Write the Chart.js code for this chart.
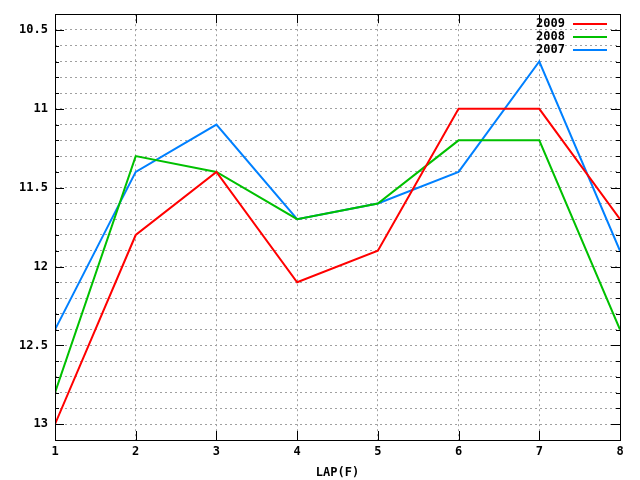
<!DOCTYPE html>
<html><head><meta charset="utf-8">
<script src="https://cdn.jsdelivr.net/npm/chart.js@4"></script>
<style>html,body{margin:0;padding:0;background:#fff}#wrap{width:640px;height:480px}</style>
</head><body><div id="wrap"><canvas id="c" width="640" height="480"></canvas></div>
<script>
const laps = [1,2,3,4,5,6,7,8];
const seriesNames = ['2009','2008','2007'];
const s2009 = [13.0, 11.8, 11.4, 12.1, 11.9, 11.0, 11.0, 11.7];
const s2008 = [12.8, 11.3, 11.4, 11.7, 11.6, 11.2, 11.2, 12.4];
const s2007 = [12.4, 11.4, 11.1, 11.7, 11.6, 11.4, 10.7, 11.9];
const colors = ['#ff0000','#00c000','#0080ff'];
const xTitle = 'LAP(F)';
const yMin = 10.4, yMax = 13.1;

const FONT = 'DejaVu Sans Mono';
const mk = (arr) => laps.map((x,i)=>({x:x,y:arr[i]}));
const data = {datasets:[s2009,s2008,s2007].map((a,i)=>({label:seriesNames[i],data:mk(a),borderColor:colors[i],backgroundColor:colors[i],borderWidth:2,pointRadius:0,tension:0,fill:false}))};

const frame = {
  id:'frame',
  afterDraw(chart){
    const ctx = chart.ctx, a = chart.chartArea;
    const ys = chart.scales.y, xs = chart.scales.x;
    ctx.save();
    ctx.strokeStyle = '#000'; ctx.lineWidth = 1; ctx.setLineDash([]);
    ctx.strokeRect(Math.round(a.left)+0.5, Math.round(a.top)+0.5, Math.round(a.right-a.left), Math.round(a.bottom-a.top));
    ctx.beginPath();
    for (let k=104;k<=131;k++){
      const v=k/10; const y=Math.round(ys.getPixelForValue(v))+0.5;
      const major = (k%5===0); const L = major?9:4;
      ctx.moveTo(a.left,y); ctx.lineTo(a.left+L,y);
      ctx.moveTo(a.right,y); ctx.lineTo(a.right-L,y);
    }
    laps.forEach(v=>{
      const x=Math.round(xs.getPixelForValue(v))+0.5;
      ctx.moveTo(x,a.top); ctx.lineTo(x,a.top+9);
      ctx.moveTo(x,a.bottom); ctx.lineTo(x,a.bottom-9);
    });
    ctx.stroke();
    // legend
    ctx.font = 'bold 12px "'+FONT+'"';
    ctx.textAlign='right'; ctx.textBaseline='middle'; ctx.fillStyle='#000';
    chart.data.datasets.forEach((ds,i)=>{
      const y = 24 + i*13;
      ctx.fillText(ds.label, 565, y);
      ctx.strokeStyle = ds.borderColor; ctx.lineWidth=2;
      ctx.beginPath(); ctx.moveTo(573,y); ctx.lineTo(607,y); ctx.stroke();
    });
    ctx.restore();
  }
};

new Chart(document.getElementById('c'), {
  type:'line',
  data:data,
  plugins:[frame],
  options:{
    responsive:false, animation:false, devicePixelRatio:1,
    layout:{padding:{top:13,right:20,left:0,bottom:0}},
    plugins:{legend:{display:false},tooltip:{enabled:false}},
    scales:{
      x:{type:'linear',min:1,max:8,
        afterFit(s){s.height=40;},
        ticks:{stepSize:1,padding:5,color:'#000',font:{family:FONT,weight:'bold',size:12}},
        grid:{color:'#a0a0a0',drawTicks:false,tickLength:0},
        border:{display:false,dash:[2,3]},
        title:{display:true,text:xTitle,color:'#000',font:{family:FONT,weight:'bold',size:12},padding:{top:3,bottom:0}}
      },
      y:{type:'linear',reverse:true,min:yMin,max:yMax,
        afterFit(s){s.width=55;},
        afterBuildTicks(s){const t=[];for(let k=104;k<=131;k++)t.push({value:k/10});s.ticks=t;},
        ticks:{padding:7,color:'#000',font:{family:FONT,weight:'bold',size:12},autoSkip:false,
          callback:(v)=>{const k=Math.round(v*10);return k%5===0?String(k/10):'';}},
        grid:{color:'#a0a0a0',drawTicks:false,tickLength:0},
        border:{display:false,dash:[2,3]}
      }
    }
  }
});
</script></body></html>
